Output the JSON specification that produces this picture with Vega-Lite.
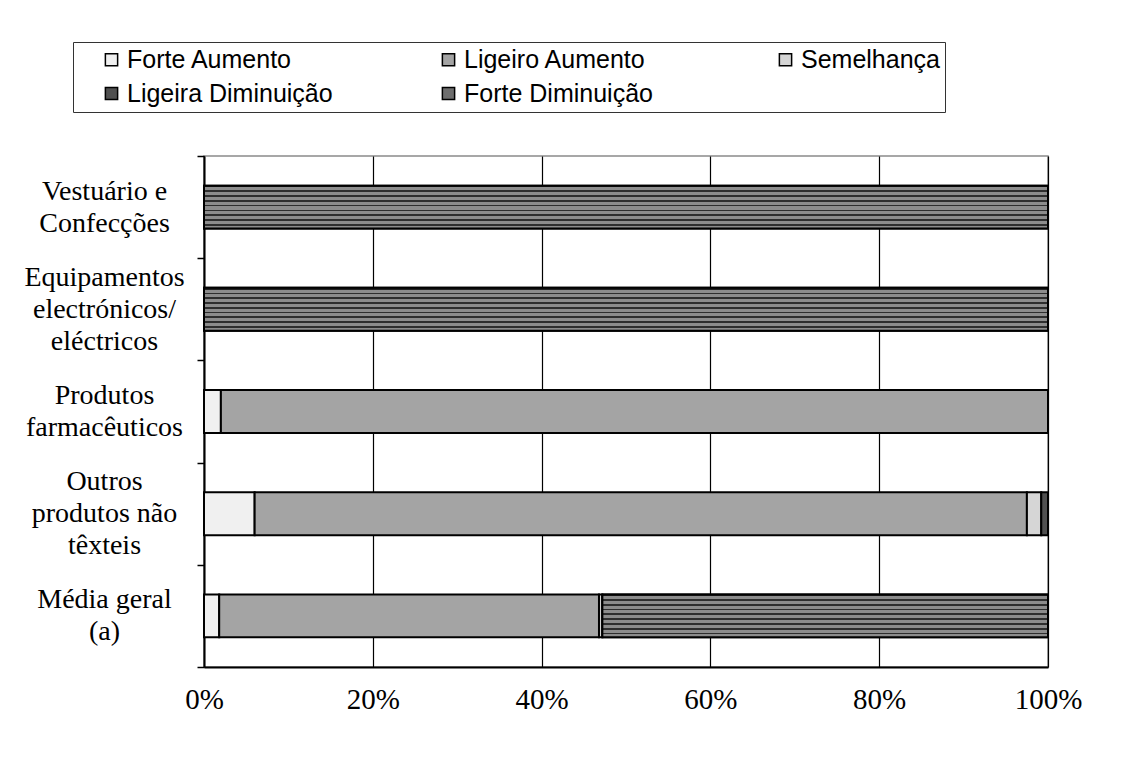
{
  "$schema": "https://vega.github.io/schema/vega-lite/v6.json",
  "width": 844,
  "height": 511,
  "autosize": {"type": "none"},
  "padding": {"left": 204, "top": 156, "right": 88, "bottom": 102},
  "background": "white",
  "config": {
    "view": {"stroke": "#8a8a8a", "strokeWidth": 1.5},
    "font": "Liberation Serif"
  },
  "data": {
    "values": [
      {"cat": "Vestuário e|Confecções", "grp": "Forte Diminuição", "o": 5, "v": 100},
      {"cat": "Equipamentos|electrónicos/|eléctricos", "grp": "Forte Diminuição", "o": 5, "v": 100},
      {"cat": "Produtos|farmacêuticos", "grp": "Forte Aumento", "o": 1, "v": 2},
      {"cat": "Produtos|farmacêuticos", "grp": "Ligeiro Aumento", "o": 2, "v": 98},
      {"cat": "Outros|produtos não|têxteis", "grp": "Forte Aumento", "o": 1, "v": 6},
      {"cat": "Outros|produtos não|têxteis", "grp": "Ligeiro Aumento", "o": 2, "v": 91.5},
      {"cat": "Outros|produtos não|têxteis", "grp": "Semelhança", "o": 3, "v": 1.7},
      {"cat": "Outros|produtos não|têxteis", "grp": "Ligeira Diminuição", "o": 4, "v": 0.8},
      {"cat": "Média geral|(a)", "grp": "Forte Aumento", "o": 1, "v": 1.8},
      {"cat": "Média geral|(a)", "grp": "Ligeiro Aumento", "o": 2, "v": 45},
      {"cat": "Média geral|(a)", "grp": "Semelhança", "o": 3, "v": 0.4},
      {"cat": "Média geral|(a)", "grp": "Forte Diminuição", "o": 5, "v": 52.8}
    ]
  },
  "transform": [
    {"stack": "v", "groupby": ["cat"], "sort": [{"field": "o", "order": "ascending"}], "as": ["x0", "x1"]}
  ],
  "encoding": {
    "y": {
      "field": "cat",
      "type": "nominal",
      "sort": ["Vestuário e|Confecções", "Equipamentos|electrónicos/|eléctricos", "Produtos|farmacêuticos", "Outros|produtos não|têxteis", "Média geral|(a)"],
      "scale": {"paddingInner": 0, "paddingOuter": 0},
      "axis": {
        "title": null,
        "labelExpr": "split(datum.label, '|')",
        "labelFont": "Liberation Serif",
        "labelFontSize": 28,
        "labelColor": "black",
        "labelAlign": "center",
        "labelBaseline": {
          "condition": {"test": "length(split(datum.value, '|')) == 3", "value": "line-bottom"},
          "value": "middle"
        },
        "labelLineHeight": 32,
        "labelOffset": -16,
        "labelPadding": 93,
        "labelLimit": 300,
        "tickBand": "extent",
        "tickSize": 7,
        "tickColor": "black",
        "tickWidth": 1.5,
        "domainColor": "black",
        "domainWidth": 2,
        "grid": false
      }
    },
    "x": {
      "field": "x0",
      "type": "quantitative",
      "scale": {"domain": [0, 100], "nice": false},
      "axis": {
        "title": null,
        "values": [0, 20, 40, 60, 80, 100],
        "labelExpr": "datum.value + '%'",
        "labelFont": "Liberation Serif",
        "labelFontSize": 29,
        "labelColor": "black",
        "labelFlush": false,
        "labelOverlap": false,
        "labelPadding": 18,
        "ticks": false,
        "domainColor": "black",
        "domainWidth": 2,
        "grid": true,
        "gridColor": "black",
        "gridWidth": 1.2,
        "gridOpacity": 1
      }
    },
    "x2": {"field": "x1"}
  },
  "layer": [
    {
      "mark": {"type": "bar", "stroke": "black", "strokeWidth": 2, "height": {"band": 0.42}},
      "encoding": {
        "color": {
          "field": "grp",
          "type": "nominal",
          "scale": {
            "domain": ["Forte Aumento", "Ligeiro Aumento", "Semelhança", "Ligeira Diminuição", "Forte Diminuição"],
            "range": ["#f0f0f0", "#a4a4a4", "#d6d6d6", "#505050", "#6e6e6e"]
          },
          "legend": {
            "title": null,
            "orient": "none",
            "legendX": -131,
            "legendY": -114,
            "direction": "horizontal",
            "columns": 3,
            "gridAlign": "all",
            "columnPadding": 82,
            "rowPadding": 8,
            "padding": 5,
            "symbolOffset": 21,
            "strokeColor": "#333333",
            "symbolType": "square",
            "symbolSize": 150,
            "symbolStrokeColor": "black",
            "symbolStrokeWidth": 1.5,
            "symbolOpacity": 1,
            "labelFont": "Liberation Sans",
            "labelFontSize": 25,
            "labelColor": "black",
            "labelOffset": 3,
            "labelLimit": 400
          }
        }
      }
    },
    {
      "transform": [{"filter": "datum.grp === 'Forte Diminuição'"}],
      "mark": {
        "type": "bar",
        "stroke": "black",
        "strokeWidth": 2,
        "height": {"band": 0.42},
        "fill": {
          "gradient": "linear",
          "x1": 0, "y1": 0, "x2": 0, "y2": 1,
          "stops": [
            {"offset": 0.0, "color": "#222222"},
            {"offset": 0.04, "color": "#222222"},
            {"offset": 0.04, "color": "#8c8c8c"},
            {"offset": 0.111, "color": "#8c8c8c"},
            {"offset": 0.111, "color": "#2e2e2e"},
            {"offset": 0.151, "color": "#2e2e2e"},
            {"offset": 0.151, "color": "#8c8c8c"},
            {"offset": 0.222, "color": "#8c8c8c"},
            {"offset": 0.222, "color": "#2e2e2e"},
            {"offset": 0.262, "color": "#2e2e2e"},
            {"offset": 0.262, "color": "#8c8c8c"},
            {"offset": 0.333, "color": "#8c8c8c"},
            {"offset": 0.333, "color": "#2e2e2e"},
            {"offset": 0.373, "color": "#2e2e2e"},
            {"offset": 0.373, "color": "#8c8c8c"},
            {"offset": 0.444, "color": "#8c8c8c"},
            {"offset": 0.444, "color": "#2e2e2e"},
            {"offset": 0.484, "color": "#2e2e2e"},
            {"offset": 0.484, "color": "#8c8c8c"},
            {"offset": 0.556, "color": "#8c8c8c"},
            {"offset": 0.556, "color": "#2e2e2e"},
            {"offset": 0.596, "color": "#2e2e2e"},
            {"offset": 0.596, "color": "#8c8c8c"},
            {"offset": 0.667, "color": "#8c8c8c"},
            {"offset": 0.667, "color": "#2e2e2e"},
            {"offset": 0.707, "color": "#2e2e2e"},
            {"offset": 0.707, "color": "#8c8c8c"},
            {"offset": 0.778, "color": "#8c8c8c"},
            {"offset": 0.778, "color": "#2e2e2e"},
            {"offset": 0.818, "color": "#2e2e2e"},
            {"offset": 0.818, "color": "#8c8c8c"},
            {"offset": 0.889, "color": "#8c8c8c"},
            {"offset": 0.889, "color": "#2e2e2e"},
            {"offset": 0.929, "color": "#2e2e2e"},
            {"offset": 0.929, "color": "#8c8c8c"},
            {"offset": 1.0, "color": "#8c8c8c"}
          ]
        }
      }
    }
  ]
}
